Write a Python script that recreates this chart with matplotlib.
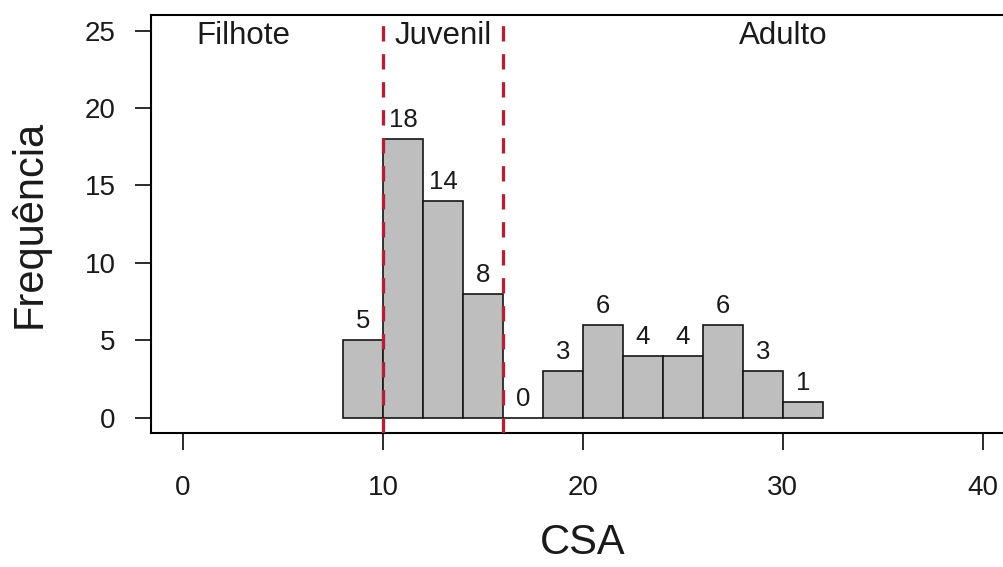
#!/usr/bin/env python3
"""Histogram of CSA with life-stage boundaries (Filhote / Juvenil / Adulto)."""

import matplotlib

matplotlib.use("Agg")
import matplotlib.pyplot as plt
import numpy as np

# bin edges and counts
bin_edges = [8, 10, 12, 14, 16, 18, 20, 22, 24, 26, 28, 30, 32]
counts = [5, 18, 14, 8, 0, 3, 6, 4, 4, 6, 3, 1]

stage_names = ["Filhote", "Juvenil", "Adulto"]
stage_label_x = [3, 13, 30]
stage_limits = [10, 16]

x_ticks = [0, 10, 20, 30, 40]
y_ticks = [0, 5, 10, 15, 20, 25]

plt.rcParams.update(
    {
        "font.family": ["Liberation Sans", "DejaVu Sans"],
        "axes.linewidth": 1.5,
    }
)

fig = plt.figure(figsize=(10.04, 5.67), dpi=100)
ax = fig.add_axes([0.1504, 0.2363, 0.8603, 0.7372])

edges = np.array(bin_edges, dtype=float)
widths = np.diff(edges)
ax.bar(edges[:-1], counts, width=widths, align="edge",
       color="#BEBEBE", edgecolor="#151515", linewidth=1.2, zorder=2)

# count labels above each bar
for left, w, c in zip(edges[:-1], widths, counts):
    ax.annotate(str(c), (left + w / 2, c), xytext=(0, 8.5), textcoords="offset points",
                ha="center", va="baseline", fontsize=18.5, color="#1a1a1a", zorder=4)

for x in stage_limits:
    ax.axvline(x, color="#AE2136", linewidth=2.4, dashes=(4.6, 3.8), zorder=3)

for name, x in zip(stage_names, stage_label_x):
    ax.text(x, 24.15, name, ha="center", va="baseline", fontsize=22.5, color="#1a1a1a")

ax.set_xlim(-1.6, 41.6)
ax.set_ylim(-1, 26)
ax.set_xticks(x_ticks)
ax.set_yticks(y_ticks)
ax.tick_params(axis="x", length=12, width=1.3, pad=18.5, labelsize=20, colors="#1a1a1a")
ax.tick_params(axis="y", length=11.5, width=1.3, pad=14, labelsize=20, colors="#1a1a1a")

ax.set_xlabel("CSA", fontsize=30, labelpad=15.5, color="#1a1a1a")
ax.set_ylabel("Frequência", fontsize=30, labelpad=25, color="#1a1a1a")

fig.savefig("out.png", dpi=100, facecolor="white")
plt.close(fig)
